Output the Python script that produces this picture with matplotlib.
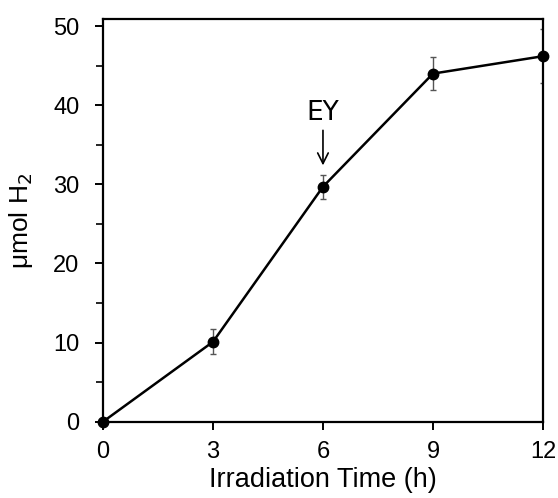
import numpy as np
import matplotlib
matplotlib.use("Agg")
import matplotlib.pyplot as plt
from matplotlib.ticker import MultipleLocator

time_h = [0, 3, 6, 9, 12]
h2_umol = [0.0, 10.1, 29.7, 44.0, 46.2]
h2_err = [0.0, 1.6, 1.5, 2.1, 3.4]

plt.rcParams['font.family'] = ['Liberation Sans', 'DejaVu Sans']

fig = plt.figure(figsize=(5.58, 4.98), dpi=100)
ax = fig.add_axes([0.1846, 0.1532, 0.973 - 0.1846, 0.9618 - 0.1532])

ax.errorbar(time_h, h2_umol, yerr=h2_err, fmt='none', ecolor='#555555',
            elinewidth=1.0, capsize=2.5, capthick=1.0, zorder=2)
ax.plot(time_h, h2_umol, color='black', lw=1.8, marker='o', ms=7.5,
        zorder=3, clip_on=False)

ax.set_xlim(0, 12)
ax.set_ylim(0, 50.9)
ax.set_xticks(time_h)
ax.set_yticks(np.arange(0, 51, 10))
ax.yaxis.set_minor_locator(MultipleLocator(5))
ax.tick_params(which='major', length=6, width=1.4, labelsize=17)
ax.tick_params(axis='x', which='major', pad=8)
ax.tick_params(axis='y', which='major', pad=11)
ax.tick_params(which='minor', length=5, width=1.2)
for s in ax.spines.values():
    s.set_linewidth(1.6)

ax.set_xlabel('Irradiation Time (h)', fontsize=19.5, labelpad=3)
ax.set_ylabel('μmol H$_2$', fontsize=19)
ax.yaxis.set_label_coords(-0.155, 0.5)

ax.annotate('EY', xy=(6, 32.4), xytext=(6, 39.0), ha='center', va='center',
            fontsize=19, family=['Liberation Sans Narrow', 'DejaVu Sans'],
            arrowprops=dict(arrowstyle='->', color='black', lw=1.2,
                            shrinkA=1, shrinkB=0))

fig.savefig('out.png', dpi=100)
